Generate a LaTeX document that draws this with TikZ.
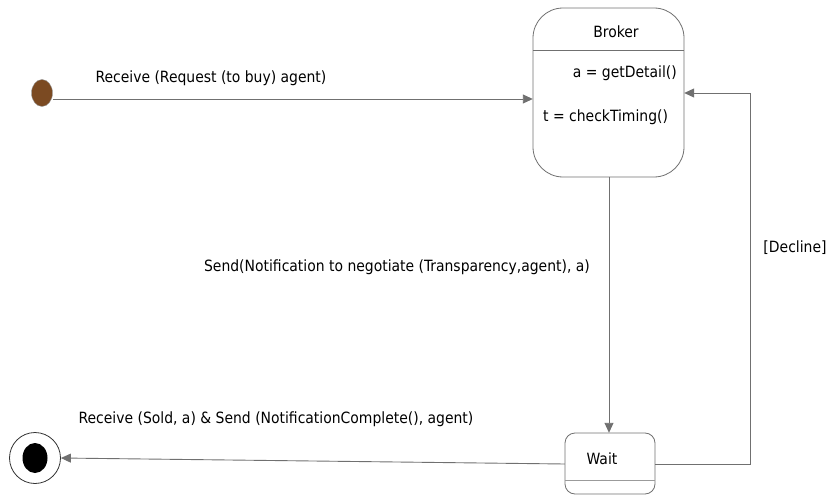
\documentclass[tikz,border=0pt]{standalone}
\usepackage{fontspec}
\setmainfont{DejaVu Sans Condensed}
\usetikzlibrary{arrows.meta,shapes.geometric}
\definecolor{lnc}{HTML}{707070}
\definecolor{brown1}{HTML}{7B4A22}
\tikzset{
  conn/.style={draw=lnc, line width=0.9pt, -{Triangle[length=10pt,width=9pt]}},
  lbl/.style={font=\fontsize{15.5}{18}\selectfont, inner sep=0pt},
  statebox/.style={draw=lnc, line width=0.8pt, fill=white}
}
\begin{document}
\begin{tikzpicture}[x=1pt,y=-1pt]
\useasboundingbox (0,0) rectangle (828,495);
% initial
\node (init) [ellipse, draw=lnc!70, fill=brown1, minimum width=21pt, minimum height=27pt, inner sep=0pt] at (42,93) {};
% broker
\draw[statebox, rounded corners=30pt] (533,8) rectangle (684,177);
\draw[lnc, line width=0.8pt] (533,50) -- (684,50);
\node (broker) at (608.5,92.5) [minimum width=151pt, minimum height=169pt, inner sep=0pt] {};
\node[lbl] (bt) at (616,32) {Broker};
\node[lbl, anchor=east] (b1) at (677,73) {a = getDetail()};
\node[lbl, anchor=west] (b2) at (543,117) {t = checkTiming()};
% wait
\draw[statebox, rounded corners=10pt] (565,433) rectangle (655,494);
\draw[lnc!70, line width=0.8pt] (565,480) -- (655,480);
\node (wait) at (610,463.5) [minimum width=90pt, minimum height=61pt, inner sep=0pt] {};
\node[lbl] (wt) at (602,459) {Wait};
% final
\node (final) [circle, draw=black!80, line width=0.8pt, minimum size=51pt, inner sep=0pt] at (35,458) {};
\node (finalin) [ellipse, fill=black, minimum width=25pt, minimum height=30pt, inner sep=0pt] at (35,458) {};
% connectors
\draw[conn] (init.east |- 0,99) -- (broker.west |- 0,99);
\node[lbl] (l1) at (211,78) {Receive (Request (to buy) agent)};
\draw[conn] (broker.south -| 609,0) -- (wait.north -| 609,0);
\node[lbl] (l2) at (397,267) {Send(Notification to negotiate (Transparency,agent), a)};
\coordinate (c1) at (750,464);
\coordinate (c2) at (750,93);
\draw[conn] (wait.east |- 0,464) -- (c1) -- (c2) -- (broker.east |- c2);
\node[lbl] (l3) at (795,248) {[Decline]};
\draw[conn] (wait.west |- 0,464) -- (final.east);
\node[lbl] (l4) at (276,419) {Receive (Sold, a) \& Send (NotificationComplete(), agent)};
\end{tikzpicture}
\end{document}
